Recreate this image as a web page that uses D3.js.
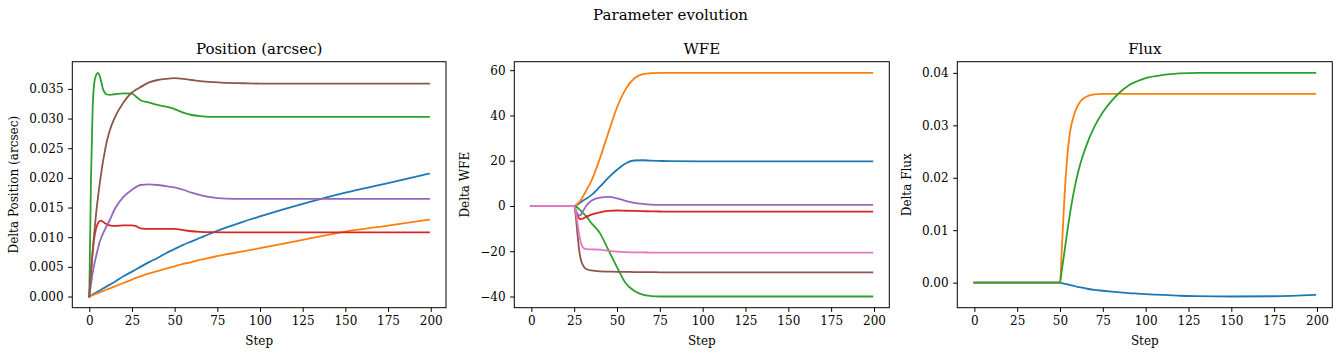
<!DOCTYPE html>
<html><head><meta charset="utf-8">
<script src="https://cdn.jsdelivr.net/npm/d3@7"></script>
<style>body{margin:0;background:#fff}svg{display:block}text{font-family:"DejaVu Serif",serif;fill:#000}</style>
</head><body><svg id="c" width="1341" height="357"></svg>
<script>
const colors = ["#1f77b4","#ff7f0e","#2ca02c","#d62728","#9467bd","#8c564b","#e377c2"];
const xTicks = [0,25,50,75,100,125,150,175,200];

// Panel 1: Position (arcsec)
const posSteps = [0,1,2,3,4,5,6,7,8,9,10,12,15,20,25,27,30,35,40,45,50,55,60,65,70,80,90,100,125,150,175,199];
const posBlue   = [0,0.00017,0.00034,0.0005,0.00067,0.00084,0.001,0.00117,0.00134,0.0015,0.00167,0.002,0.0025,0.0034,0.0042,0.0045,0.005,0.0058,0.0065,0.0073,0.008,0.0087,0.0093,0.0099,0.0105,0.0116,0.0126,0.0135,0.0156,0.0175,0.0191,0.0207];
const posOrange = [0,0.00011,0.00023,0.00034,0.00046,0.00057,0.00068,0.0008,0.00091,0.00103,0.00114,0.00137,0.00171,0.00228,0.00285,0.0031,0.0034,0.0039,0.0043,0.0047,0.0051,0.0055,0.0058,0.0062,0.0065,0.0071,0.0076,0.00815,0.00955,0.01094,0.01195,0.01295];
const posGreen  = [0,0.02,0.032,0.0362,0.0373,0.0377,0.0373,0.0362,0.035,0.0344,0.0341,0.034,0.0341,0.03425,0.0342,0.0338,0.0331,0.0327,0.0323,0.032,0.0316,0.031,0.0306,0.0304,0.0303,0.0303,0.0303,0.0303,0.0303,0.0303,0.0303,0.0303];
const posRed    = [0,0.004,0.0075,0.01,0.0115,0.0123,0.0127,0.0128,0.0126,0.0124,0.0122,0.012,0.0119,0.012,0.012,0.0119,0.0115,0.0114,0.0114,0.0114,0.0114,0.0112,0.011,0.0109,0.01085,0.01083,0.01083,0.01083,0.01083,0.01083,0.01083,0.01083];
const posPurple = [0,0.0021,0.004,0.0055,0.0068,0.008,0.0091,0.0099,0.0106,0.0112,0.0118,0.0129,0.0148,0.0168,0.018,0.0184,0.0188,0.0189,0.0188,0.0186,0.0184,0.018,0.0175,0.0171,0.0168,0.0165,0.01647,0.01647,0.01647,0.01647,0.01647,0.01647];
const posBrown  = [0,0.0041,0.0078,0.011,0.014,0.0165,0.0188,0.0208,0.0227,0.0243,0.0258,0.028,0.0302,0.0327,0.0344,0.0348,0.0353,0.0361,0.0365,0.0367,0.0368,0.0367,0.0365,0.0363,0.0362,0.036,0.03595,0.0359,0.0359,0.0359,0.0359,0.0359];
const posYTicks = [0,0.005,0.01,0.015,0.02,0.025,0.03,0.035];

// Panel 2: WFE
const wfeSteps = [0,25,26,27,28,29,30,32,35,40,45,50,55,60,65,70,75,80,100,150,199];
const wfeBlue   = [0,0,0.3,0.7,1.2,1.7,2.3,3.2,4.8,8.5,12.5,16,18.8,20.1,20.2,20,19.9,19.8,19.7,19.7,19.7];
const wfeOrange = [0,0,0.3,1,1.8,2.8,4,6.8,11,21,32.5,43.5,51.5,56.3,58.2,58.7,58.8,58.8,58.8,58.8,58.8];
const wfeGreen  = [0,0,-0.3,-0.8,-1.5,-2.2,-3,-4.5,-7.5,-12,-19.5,-27,-34,-37.5,-39.2,-39.8,-40,-40,-40,-40,-40];
const wfeRed    = [0,0,-2.5,-4.5,-5.5,-5.8,-5.6,-4.8,-3.8,-2.8,-2.2,-2,-2.1,-2.2,-2.3,-2.4,-2.45,-2.5,-2.5,-2.5,-2.5];
const wfePurple = [0,0,-2,-3.6,-4.2,-3.8,-2.5,0,2.3,3.7,4,3.4,2.3,1.4,0.9,0.6,0.5,0.5,0.5,0.5,0.5];
const wfeBrown  = [0,0,-5,-13,-20,-24,-26,-27.8,-28.5,-28.9,-29,-29.1,-29.1,-29.2,-29.2,-29.2,-29.3,-29.3,-29.3,-29.3,-29.3];
const wfePink   = [0,0,-3,-8,-13,-16.5,-18.3,-19.1,-19.2,-19.3,-19.8,-20.2,-20.4,-20.5,-20.5,-20.6,-20.6,-20.6,-20.6,-20.6,-20.6];
const wfeYTicks = [-40,-20,0,20,40,60];

// Panel 3: Flux
const fluxSteps = [0,50,51,52,53,54,55,56,58,60,62,65,70,75,80,85,90,95,100,110,120,130,150,175,199];
const fluxBlue   = [0,0,-0.00008,-0.00016,-0.00024,-0.0003,-0.0004,-0.00047,-0.0006,-0.0008,-0.0009,-0.0011,-0.0014,-0.00155,-0.0017,-0.00185,-0.002,-0.0021,-0.0022,-0.00235,-0.0025,-0.00258,-0.00265,-0.0026,-0.00235];
const fluxOrange = [0,0,0.006,0.0125,0.0185,0.023,0.0265,0.029,0.0318,0.0335,0.0346,0.0354,0.0359,0.036,0.036,0.036,0.036,0.036,0.036,0.036,0.036,0.036,0.036,0.036,0.036];
const fluxGreen  = [0,0,0.0023,0.0045,0.0068,0.0092,0.0114,0.0135,0.0172,0.0203,0.0228,0.0258,0.0297,0.0325,0.0346,0.0363,0.0376,0.0384,0.039,0.0396,0.0399,0.04,0.04,0.04,0.04];
const fluxYTicks = [0,0.01,0.02,0.03,0.04];

const panels = [
  {title:"Position (arcsec)", ylabel:"Delta Position (arcsec)", steps:posSteps,
   series:[posBlue,posOrange,posGreen,posRed,posPurple,posBrown], yticks:posYTicks, fmt:d3.format(".3f"),
   left:72.3, right:446, ylabX:14},
  {title:"WFE", ylabel:"Delta WFE", steps:wfeSteps,
   series:[wfeBlue,wfeOrange,wfeGreen,wfeRed,wfePurple,wfeBrown,wfePink], yticks:wfeYTicks, fmt:d3.format("d"),
   left:514.3, right:889.3, ylabX:465},
  {title:"Flux", ylabel:"Delta Flux", steps:fluxSteps,
   series:[fluxBlue,fluxOrange,fluxGreen], yticks:fluxYTicks, fmt:d3.format(".2f"),
   left:957.3, right:1332.3, ylabX:907}
];
const axTop = 61.7, axBot = 307.7;
const svg = d3.select("#c");

svg.append("text").attr("x",670.5).attr("y",20).attr("text-anchor","middle")
  .style("font-size","15px").text("Parameter evolution");

panels.forEach((p,pi) => {
  const xs = d3.extent(p.steps);
  const xm = (xs[1]-xs[0])*0.05;
  const x = d3.scaleLinear().domain([xs[0]-xm, xs[1]+xm]).range([p.left, p.right]);
  const all = p.series.flat();
  const ye = d3.extent(all);
  const ym = (ye[1]-ye[0])*0.05;
  const y = d3.scaleLinear().domain([ye[0]-ym, ye[1]+ym]).range([axBot, axTop]);
  const g = svg.append("g");

  const line = d3.line().x((d,i)=>x(p.steps[i])).y(d=>y(d)).curve(d3.curveMonotoneX);
  const clipId = "clip"+pi;
  g.append("clipPath").attr("id",clipId).append("rect")
    .attr("x",p.left).attr("y",axTop).attr("width",p.right-p.left).attr("height",axBot-axTop);
  p.series.forEach((s,i)=>{
    g.append("path").attr("d",line(s)).attr("fill","none")
      .attr("stroke",colors[i]).attr("stroke-width",1.8).attr("stroke-linejoin","round")
      .attr("stroke-linecap","square").attr("clip-path",`url(#${clipId})`);
  });

  const xa = g.append("g").attr("transform",`translate(0,${axBot})`)
    .call(d3.axisBottom(x).tickValues(xTicks).tickSize(4.2).tickPadding(4.5).tickFormat(d3.format("d")));
  const ya = g.append("g").attr("transform",`translate(${p.left},0)`)
    .call(d3.axisLeft(y).tickValues(p.yticks).tickSize(4.2).tickPadding(4.5).tickFormat(p.fmt));
  [xa,ya].forEach(a=>{
    a.select(".domain").remove();
    a.selectAll("line").attr("stroke","#000").attr("stroke-width",1);
    a.selectAll("text").style("font-size","12px").style("font-family","DejaVu Serif").attr("fill","#000");
  });

  g.append("rect").attr("x",p.left).attr("y",axTop).attr("width",p.right-p.left).attr("height",axBot-axTop)
    .attr("fill","none").attr("stroke","#000").attr("stroke-width",1);

  g.append("text").attr("x",(p.left+p.right)/2).attr("y",axTop-8).attr("text-anchor","middle")
    .style("font-size","15px").text(p.title);
  g.append("text").attr("x",(p.left+p.right)/2).attr("y",345).attr("text-anchor","middle")
    .style("font-size","12px").text("Step");
  g.append("text").attr("transform",`translate(${p.ylabX},${(axTop+axBot)/2}) rotate(-90)`)
    .attr("text-anchor","middle").attr("dy","0.35em").style("font-size","12px").text(p.ylabel);
});
</script></body></html>
